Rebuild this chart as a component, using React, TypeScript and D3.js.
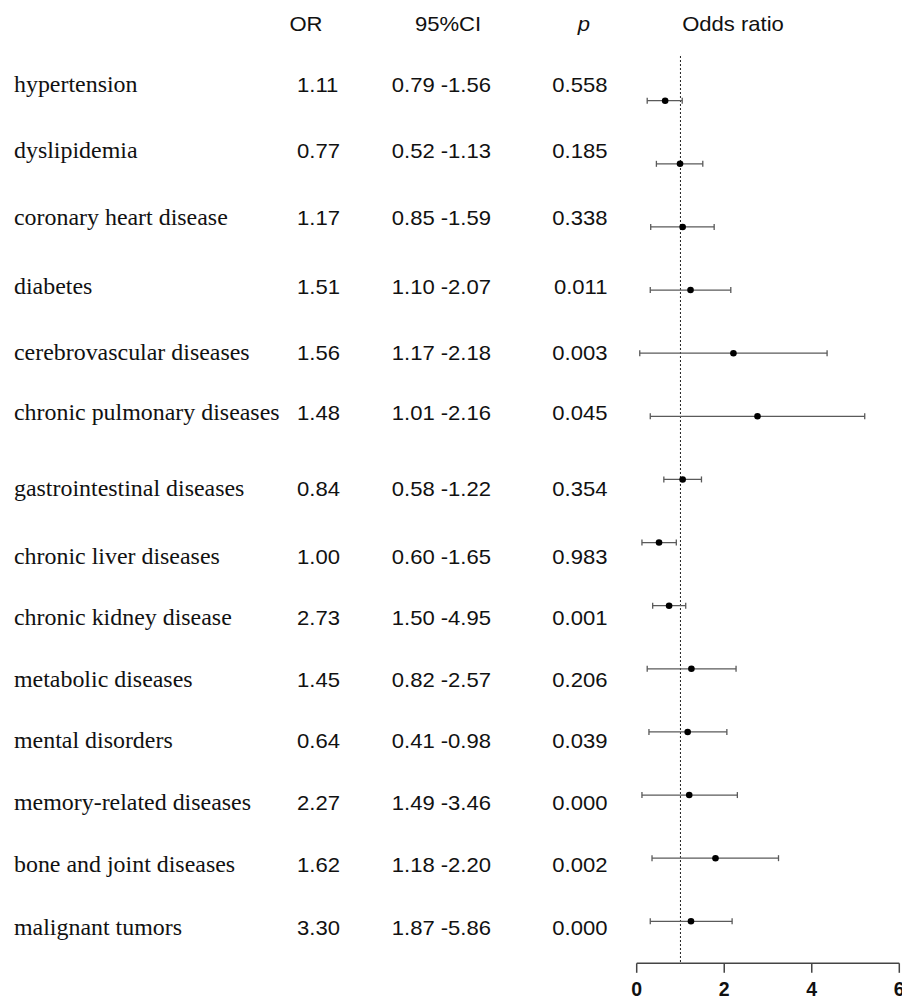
import React from "react";
import * as d3 from "d3";

const categories = [
  "hypertension",
  "dyslipidemia",
  "coronary heart disease",
  "diabetes",
  "cerebrovascular diseases",
  "chronic pulmonary diseases",
  "gastrointestinal diseases",
  "chronic liver diseases",
  "chronic kidney disease",
  "metabolic diseases",
  "mental disorders",
  "memory-related diseases",
  "bone and joint diseases",
  "malignant tumors",
];
const orText = ["1.11", "0.77", "1.17", "1.51", "1.56", "1.48", "0.84", "1.00", "2.73", "1.45", "0.64", "2.27", "1.62", "3.30"];
const ciText = [
  "0.79 -1.56", "0.52 -1.13", "0.85 -1.59", "1.10 -2.07", "1.17 -2.18", "1.01 -2.16", "0.58 -1.22",
  "0.60 -1.65", "1.50 -4.95", "0.82 -2.57", "0.41 -0.98", "1.49 -3.46", "1.18 -2.20", "1.87 -5.86",
];
const pText = ["0.558", "0.185", "0.338", "0.011", "0.003", "0.045", "0.354", "0.983", "0.001", "0.206", "0.039", "0.000", "0.002", "0.000"];

// plotted values (as drawn in the forest panel)
const estimate = [0.65, 0.99, 1.05, 1.23, 2.21, 2.76, 1.05, 0.51, 0.74, 1.25, 1.165, 1.2, 1.8, 1.24];
const lower = [0.24, 0.45, 0.32, 0.31, 0.07, 0.31, 0.62, 0.12, 0.365, 0.24, 0.28, 0.12, 0.35, 0.31];
const upper = [1.04, 1.51, 1.77, 2.15, 4.35, 5.21, 1.48, 0.905, 1.12, 2.27, 2.06, 2.3, 3.24, 2.18];
const xTicks = [0, 2, 4, 6];
const refLine = 1;

// layout: text row baselines (table rows are not evenly spaced in the original)
const textBaselines = [91.7, 158.3, 224.5, 293.5, 359.5, 419.5, 496.3, 563.5, 625, 686.5, 748.3, 810, 871.5, 934.5];

const W = 902;
const H = 999;

export default function App() {
  const x = d3.scaleLinear().domain([0, 6]).range([636.7, 899.3]);
  const y = d3.scalePoint<string>().domain(categories).range([100.7, 921.3]);
  const axisY = 963.3;
  const sans = "Arial, 'Liberation Sans', sans-serif";
  const serif = "'Times New Roman', 'Liberation Serif', serif";
  const sx = 1.05;
  const stxt = (tx: number, ty: number, s: number) => `translate(${tx},${ty}) scale(${s},1)`;

  return (
    <svg
      width={W}
      height={H}
      style={{ position: "absolute", left: 0, top: 0, display: "block", background: "#fff" }}
    >
      <rect x={0} y={0} width={W} height={H} fill="#fff" />
      {/* headers */}
      <g fontFamily={sans} fontSize={21} fill="#111">
        <text transform={stxt(306, 30.7, sx)} textAnchor="middle">OR</text>
        <text transform={stxt(448, 30.7, sx)} textAnchor="middle">95%CI</text>
        <text transform={stxt(584, 30.7, sx)} textAnchor="middle" fontStyle="italic">p</text>
        <text transform={stxt(733, 30.7, sx)} textAnchor="middle">Odds ratio</text>
      </g>
      {/* table rows */}
      {categories.map((c, i) => (
        <g key={c}>
          <text
            transform={stxt(14, textBaselines[i], 1.04)}
            fontFamily={serif}
            fontSize={23}
            fill="#111"
          >
            {c}
          </text>
          <text transform={stxt(297, textBaselines[i], sx)} fontFamily={sans} fontSize={21} fill="#111">
            {orText[i]}
          </text>
          <text
            transform={stxt(491, textBaselines[i], sx)}
            fontFamily={sans}
            fontSize={21}
            fill="#111"
            textAnchor="end"
          >
            {ciText[i]}
          </text>
          <text
            transform={stxt(607.5, textBaselines[i], sx)}
            fontFamily={sans}
            fontSize={21}
            fill="#111"
            textAnchor="end"
          >
            {pText[i]}
          </text>
        </g>
      ))}
      {/* reference line */}
      <line
        x1={x(refLine)}
        x2={x(refLine)}
        y1={56}
        y2={axisY}
        stroke="#222"
        strokeWidth={1}
        strokeDasharray="2,2"
      />
      {/* error bars and points */}
      {categories.map((c, i) => {
        const yy = y(c) as number;
        return (
          <g key={"m" + c}>
            <line x1={x(lower[i])} x2={x(upper[i])} y1={yy} y2={yy} stroke="#5a5a5a" strokeWidth={1.3} />
            <line x1={x(lower[i])} x2={x(lower[i])} y1={yy - 3} y2={yy + 3} stroke="#5a5a5a" strokeWidth={1.3} />
            <line x1={x(upper[i])} x2={x(upper[i])} y1={yy - 3} y2={yy + 3} stroke="#5a5a5a" strokeWidth={1.3} />
            <circle cx={x(estimate[i])} cy={yy} r={3.3} fill="#000" />
          </g>
        );
      })}
      {/* x axis */}
      <line x1={x(0)} x2={x(6)} y1={axisY} y2={axisY} stroke="#444" strokeWidth={1.5} />
      {xTicks.map((t) => (
        <g key={t}>
          <line x1={x(t)} x2={x(t)} y1={axisY} y2={axisY + 9.5} stroke="#444" strokeWidth={1.5} />
          <text
            x={x(t)}
            y={995.7}
            textAnchor="middle"
            fontFamily={sans}
            fontWeight="bold"
            fontSize={19.5}
            fill="#111"
          >
            {t}
          </text>
        </g>
      ))}
    </svg>
  );
}
